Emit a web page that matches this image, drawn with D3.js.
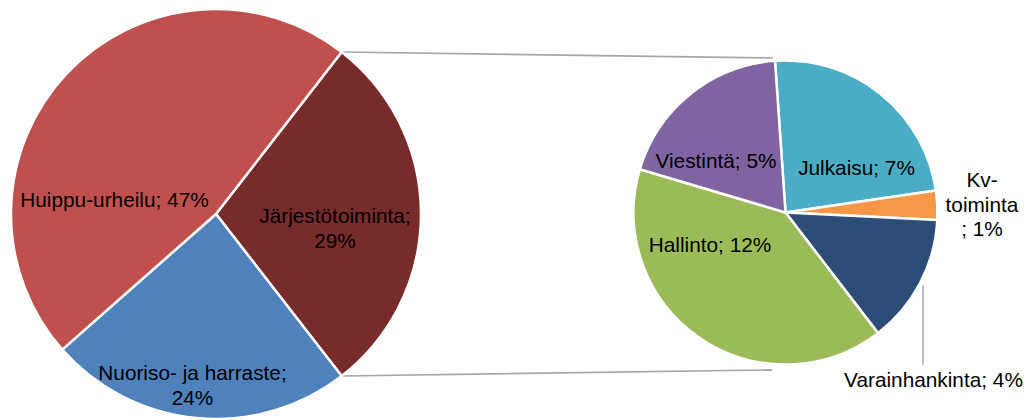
<!DOCTYPE html>
<html>
<head>
<meta charset="utf-8">
<script src="https://cdn.jsdelivr.net/npm/d3@7"></script>
<style>
  html, body { margin: 0; padding: 0; background: #fff; }
  svg { display: block; font-family: "Liberation Sans", Arial, sans-serif; }
</style>
</head>
<body>
<svg width="1029" height="420"></svg>
<script>
// main pie, clockwise starting with the slice that is split out
const mainNames = ["Järjestötoiminta", "Nuoriso- ja harraste", "Huippu-urheilu"];
const mainValues = [29, 24, 47];
const mainColors = ["#772b2a", "#4f81bd", "#c0504d"];

// secondary pie (breakdown of Järjestötoiminta), clockwise from the top
const subNames = ["Julkaisu", "Kv-toiminta", "Varainhankinta", "Hallinto", "Viestintä"];
const subShares = [6.9, 0.9, 4.0, 11.6, 5.6];   // slice sizes as drawn
const subPercents = [7, 1, 4, 12, 5];           // printed labels
const subColors = ["#4bacc6", "#f79646", "#2c4d75", "#9bbb59", "#8064a2"];

const svg = d3.select("svg");
const deg = Math.PI / 180;

// layout
const main = { cx: 216, cy: 214, r: 205 };
const sub = { cx: 785.5, cy: 212.5, r: 152 };

const mainTotal = d3.sum(mainValues);
const mainStart = 90 * deg - (mainValues[0] / mainTotal) * Math.PI;

const mainPie = d3.pie().sort(null)
  .startAngle(mainStart)
  .endAngle(mainStart + 2 * Math.PI);
const subPie = d3.pie().sort(null)
  .startAngle(-3.96 * deg)
  .endAngle(-3.96 * deg + 2 * Math.PI);

const mainArc = d3.arc().innerRadius(0).outerRadius(main.r);
const subArc = d3.arc().innerRadius(0).outerRadius(sub.r);

const mainArcs = mainPie(mainValues);
const subArcs = subPie(subShares);

// connector lines from the split slice to the secondary pie
const pt = (c, r, a) => [c.cx + r * Math.sin(a), c.cy - r * Math.cos(a)];
const split = mainArcs[0];
const connectors = [
  [pt(main, main.r, split.startAngle), pt(sub, sub.r + 3, -4.7 * deg)],
  [pt(main, main.r, split.endAngle), pt(sub, sub.r + 6, 184.9 * deg)]
];

svg.append("g").selectAll("line")
  .data(connectors)
  .enter().append("line")
  .attr("x1", d => d[0][0] + 1)
  .attr("y1", d => d[0][1])
  .attr("x2", d => d[1][0])
  .attr("y2", d => d[1][1])
  .attr("stroke", "#a6a6a6")
  .attr("stroke-width", 1.6);

const gMain = svg.append("g")
  .attr("transform", `translate(${main.cx},${main.cy})`);

gMain.selectAll("path")
  .data(mainArcs)
  .enter().append("path")
  .attr("d", mainArc)
  .attr("fill", (d, i) => mainColors[i])
  .attr("stroke", "#fff")
  .attr("stroke-width", 2.5)
  .attr("stroke-linejoin", "round");

const gSub = svg.append("g")
  .attr("transform", `translate(${sub.cx},${sub.cy})`);

gSub.selectAll("path")
  .data(subArcs)
  .enter().append("path")
  .attr("d", subArc)
  .attr("fill", (d, i) => subColors[i])
  .attr("stroke", "#fff")
  .attr("stroke-width", 2.5)
  .attr("stroke-linejoin", "round");

// leader line for Varainhankinta
const varX = 923;
const varTop = sub.cy + Math.sqrt(sub.r * sub.r - (varX - sub.cx) ** 2) + 8;
svg.append("line")
  .attr("x1", varX).attr("x2", varX)
  .attr("y1", varTop).attr("y2", 365)
  .attr("stroke", "#a6a6a6")
  .attr("stroke-width", 1.5);

// data labels (best-fit positions, lines stacked by baseline)
const mainLabelPos = [
  { x: 335, y: 223, lines: d => [d.name + ";", d.pct + "%"] },
  { x: 192.5, y: 380, lines: d => [d.name + ";", d.pct + "%"] },
  { x: 114.5, y: 207, lines: d => [d.name + "; " + d.pct + "%"] }
];
const subLabelPos = [
  { x: 856.5, y: 175, lines: d => [d.name + "; " + d.pct + "%"] },
  { x: 982, y: 187, lines: d => ["Kv-", "toiminta", "; " + d.pct + "%"] },
  { x: 933.5, y: 387, lines: d => [d.name + "; " + d.pct + "%"] },
  { x: 710, y: 252, lines: d => [d.name + "; " + d.pct + "%"] },
  { x: 716, y: 168, lines: d => [d.name + "; " + d.pct + "%"] }
];

const labels = mainNames.map((name, i) => ({ name, pct: mainValues[i], pos: mainLabelPos[i] }))
  .concat(subNames.map((name, i) => ({ name, pct: subPercents[i], pos: subLabelPos[i] })));

const lineH = 24.5;
svg.append("g").selectAll("text")
  .data(labels)
  .enter().append("text")
  .attr("text-anchor", "middle")
  .attr("font-size", "20.8px")
  .attr("fill", "#000")
  .each(function(d) {
    const t = d3.select(this);
    d.pos.lines(d).forEach((s, k) => {
      t.append("tspan")
        .attr("x", d.pos.x)
        .attr("y", d.pos.y + k * lineH)
        .text(s);
    });
  });
</script>
</body>
</html>
